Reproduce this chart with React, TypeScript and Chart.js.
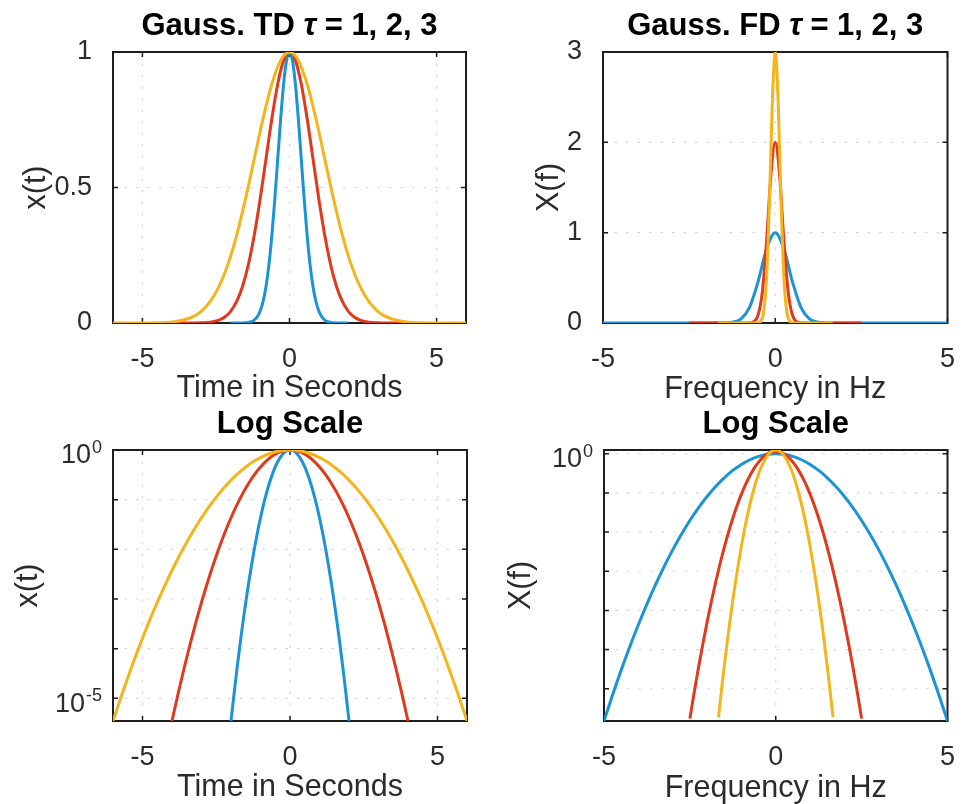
import React, { useEffect, useRef } from 'react';
import { Chart, registerables } from 'chart.js';

Chart.register(...registerables);

// ---------------- data ----------------
// Time axis samples for each pulse width tau = 1, 2, 3
const tdTimeTau1 = [-2, -1.9, -1.8, -1.7, -1.6, -1.5, -1.4, -1.3, -1.2, -1.1, -1, -0.9, -0.8, -0.7, -0.6, -0.5, -0.4, -0.3, -0.2, -0.1, 0, 0.1, 0.2, 0.3, 0.4, 0.5, 0.6, 0.7, 0.8, 0.9, 1, 1.1, 1.2, 1.3, 1.4, 1.5, 1.6, 1.7, 1.8, 1.9, 2];
const tdTimeTau2 = [-4, -3.8, -3.6, -3.4, -3.2, -3, -2.8, -2.6, -2.4, -2.2, -2, -1.8, -1.6, -1.4, -1.2, -1, -0.8, -0.6, -0.4, -0.2, 0, 0.2, 0.4, 0.6, 0.8, 1, 1.2, 1.4, 1.6, 1.8, 2, 2.2, 2.4, 2.6, 2.8, 3, 3.2, 3.4, 3.6, 3.8, 4];
const tdTimeTau3 = [-6, -5.7, -5.4, -5.1, -4.8, -4.5, -4.2, -3.9, -3.6, -3.3, -3, -2.7, -2.4, -2.1, -1.8, -1.5, -1.2, -0.9, -0.6, -0.3, 0, 0.3, 0.6, 0.9, 1.2, 1.5, 1.8, 2.1, 2.4, 2.7, 3, 3.3, 3.6, 3.9, 4.2, 4.5, 4.8, 5.1, 5.4, 5.7, 6];

// Pulse amplitudes x(t)
const tdPulseTau1 = [3.49e-6, 1.19e-5, 3.8e-5, 1.14e-4, 3.22e-4, 8.51e-4, 2.12e-3, 4.95e-3, 1.085e-2, 2.23e-2, 4.32e-2, 7.85e-2, 0.1339, 0.2145, 0.3227, 0.4559, 0.6049, 0.7537, 0.8819, 0.9691, 1, 0.9691, 0.8819, 0.7537, 0.6049, 0.4559, 0.3227, 0.2145, 0.1339, 7.85e-2, 4.32e-2, 2.23e-2, 1.085e-2, 4.95e-3, 2.12e-3, 8.51e-4, 3.22e-4, 1.14e-4, 3.8e-5, 1.19e-5, 3.49e-6];
const tdPulseTau2 = [3.49e-6, 1.19e-5, 3.8e-5, 1.14e-4, 3.22e-4, 8.51e-4, 2.12e-3, 4.95e-3, 1.085e-2, 2.23e-2, 4.32e-2, 7.85e-2, 0.1339, 0.2145, 0.3227, 0.4559, 0.6049, 0.7537, 0.8819, 0.9691, 1, 0.9691, 0.8819, 0.7537, 0.6049, 0.4559, 0.3227, 0.2145, 0.1339, 7.85e-2, 4.32e-2, 2.23e-2, 1.085e-2, 4.95e-3, 2.12e-3, 8.51e-4, 3.22e-4, 1.14e-4, 3.8e-5, 1.19e-5, 3.49e-6];
const tdPulseTau3 = [3.49e-6, 1.19e-5, 3.8e-5, 1.14e-4, 3.22e-4, 8.51e-4, 2.12e-3, 4.95e-3, 1.085e-2, 2.23e-2, 4.32e-2, 7.85e-2, 0.1339, 0.2145, 0.3227, 0.4559, 0.6049, 0.7537, 0.8819, 0.9691, 1, 0.9691, 0.8819, 0.7537, 0.6049, 0.4559, 0.3227, 0.2145, 0.1339, 7.85e-2, 4.32e-2, 2.23e-2, 1.085e-2, 4.95e-3, 2.12e-3, 8.51e-4, 3.22e-4, 1.14e-4, 3.8e-5, 1.19e-5, 3.49e-6];

// Frequency axis samples for each tau
const fdFreqTau1 = [-5, -4.75, -4.5, -4.25, -4, -3.75, -3.5, -3.25, -3, -2.75, -2.5, -2.25, -2, -1.75, -1.5, -1.25, -1, -0.75, -0.5, -0.25, 0, 0.25, 0.5, 0.75, 1, 1.25, 1.5, 1.75, 2, 2.25, 2.5, 2.75, 3, 3.25, 3.5, 3.75, 4, 4.25, 4.5, 4.75, 5];
const fdFreqTau2 = [-2.5, -2.375, -2.25, -2.125, -2, -1.875, -1.75, -1.625, -1.5, -1.375, -1.25, -1.125, -1, -0.875, -0.75, -0.625, -0.5, -0.375, -0.25, -0.125, 0, 0.125, 0.25, 0.375, 0.5, 0.625, 0.75, 0.875, 1, 1.125, 1.25, 1.375, 1.5, 1.625, 1.75, 1.875, 2, 2.125, 2.25, 2.375, 2.5];
const fdFreqTau3 = [-1.667, -1.583, -1.5, -1.417, -1.333, -1.25, -1.167, -1.083, -1, -0.917, -0.833, -0.75, -0.667, -0.583, -0.5, -0.417, -0.333, -0.25, -0.167, -0.083, 0, 0.083, 0.167, 0.25, 0.333, 0.417, 0.5, 0.583, 0.667, 0.75, 0.833, 0.917, 1, 1.083, 1.167, 1.25, 1.333, 1.417, 1.5, 1.583, 1.667];

// Spectrum magnitudes X(f)
const fdSpecTau1 = [7.8e-35, 1.6e-31, 2.4e-28, 2.3e-25, 1.5e-22, 6.5e-20, 1.9e-17, 3.9e-15, 5.3e-13, 4.8e-11, 3.0e-9, 1.24e-7, 3.49e-6, 6.6e-5, 8.5e-4, 7.38e-3, 4.32e-2, 0.171, 0.456, 0.822, 1, 0.822, 0.456, 0.171, 4.32e-2, 7.38e-3, 8.5e-4, 6.6e-5, 3.49e-6, 1.24e-7, 3.0e-9, 4.8e-11, 5.3e-13, 3.9e-15, 1.9e-17, 6.5e-20, 1.5e-22, 2.3e-25, 2.4e-28, 1.6e-31, 7.8e-35];
const fdSpecTau2 = [1.55e-34, 3.3e-31, 4.7e-28, 4.5e-25, 3.0e-22, 1.3e-19, 3.9e-17, 7.8e-15, 1.05e-12, 9.6e-11, 5.9e-9, 2.5e-7, 7.0e-6, 1.33e-4, 1.7e-3, 1.48e-2, 8.6e-2, 0.342, 0.912, 1.643, 2, 1.643, 0.912, 0.342, 8.6e-2, 1.48e-2, 1.7e-3, 1.33e-4, 7.0e-6, 2.5e-7, 5.9e-9, 9.6e-11, 1.05e-12, 7.8e-15, 3.9e-17, 1.3e-19, 3.0e-22, 4.5e-25, 4.7e-28, 3.3e-31, 1.55e-34];
const fdSpecTau3 = [2.3e-34, 4.9e-31, 7.1e-28, 6.8e-25, 4.4e-22, 1.95e-19, 5.8e-17, 1.16e-14, 1.58e-12, 1.44e-10, 8.9e-9, 3.7e-7, 1.05e-5, 2.0e-4, 2.55e-3, 2.2e-2, 0.130, 0.512, 1.368, 2.465, 3, 2.465, 1.368, 0.512, 0.130, 2.2e-2, 2.55e-3, 2.0e-4, 1.05e-5, 3.7e-7, 8.9e-9, 1.44e-10, 1.58e-12, 1.16e-14, 5.8e-17, 1.95e-19, 4.4e-22, 6.8e-25, 7.1e-28, 4.9e-31, 2.3e-34];

// Axis ranges and ticks
const timeRange = [-6, 6];
const timeTicks = [-5, 0, 5];
const freqRange = [-5, 5];
const freqTicks = [-5, 0, 5];
const pulseLinRange = [0, 1];
const pulseLinTicks = [0, 0.5, 1];
const specLinRange = [0, 3];
const specLinTicks = [0, 1, 2, 3];
const pulseLogRange = [3.49e-6, 1];
const pulseLogTicks = [1e-5, 1e-4, 1e-3, 1e-2, 1e-1, 1];
const pulseLogLabelExps = [0, -5];
const specLogRange = [7.7e-35, 3];
const specLogTicks = [1e-30, 1e-25, 1e-20, 1e-15, 1e-10, 1e-5, 1];
const specLogLabelExps = [0];

const seriesNames = ['τ = 1', 'τ = 2', 'τ = 3'];

// ---------------- styling ----------------
const PAGE_W = 967;
const PAGE_H = 804;
const FONT = "'Liberation Sans', Arial, Helvetica, sans-serif";
const COLORS = ['#1b94d6', '#e03a1e', '#f4b41c'];
const TEXT = '#2b2b2b';
const TICK_SIZE = 27;
const LABEL_SIZE = 30.5;
const TITLE_SIZE = 31;
const GRID = 'rgba(150,160,190,0.42)';

type Box = { l: number; t: number; r: number; b: number };
type TitlePart = { text: string; style: string };
type PanelCfg = {
  box: Box;
  titleY: number;
  title: TitlePart[];
  xTitleY: number;
  yTitleX: number;
  xLabel: string;
  yLabel: string;
  xRange: number[];
  xTicks: number[];
  yLog: boolean;
  yRange: number[];
  yTicks: number[];
  logLabelExps?: number[];
  xs: number[][];
  ys: number[][];
};

const tdTitle: TitlePart[] = [
  { text: 'Gauss. TD ', style: 'bold' },
  { text: 'τ', style: 'italic bold' },
  { text: ' = 1, 2, 3', style: 'bold' },
];
const fdTitle: TitlePart[] = [
  { text: 'Gauss. FD ', style: 'bold' },
  { text: 'τ', style: 'italic bold' },
  { text: ' = 1, 2, 3', style: 'bold' },
];
const logTitle: TitlePart[] = [{ text: 'Log Scale', style: 'bold' }];

const panels: PanelCfg[] = [
  {
    box: { l: 113, t: 52, r: 466, b: 323 }, titleY: 26, title: tdTitle, xTitleY: 389, yTitleX: 37,
    xLabel: 'Time in Seconds', yLabel: 'x(t)', xRange: timeRange, xTicks: timeTicks,
    yLog: false, yRange: pulseLinRange, yTicks: pulseLinTicks,
    xs: [tdTimeTau1, tdTimeTau2, tdTimeTau3], ys: [tdPulseTau1, tdPulseTau2, tdPulseTau3],
  },
  {
    box: { l: 603, t: 52, r: 959, b: 323 }, titleY: 26, title: fdTitle, xTitleY: 390, yTitleX: 550,
    xLabel: 'Frequency in Hz', yLabel: 'X(f)', xRange: freqRange, xTicks: freqTicks,
    yLog: false, yRange: specLinRange, yTicks: specLinTicks,
    xs: [fdFreqTau1, fdFreqTau2, fdFreqTau3], ys: [fdSpecTau1, fdSpecTau2, fdSpecTau3],
  },
  {
    box: { l: 113, t: 450, r: 467, b: 721 }, titleY: 424, title: logTitle, xTitleY: 788, yTitleX: 29,
    xLabel: 'Time in Seconds', yLabel: 'x(t)', xRange: timeRange, xTicks: timeTicks,
    yLog: true, yRange: pulseLogRange, yTicks: pulseLogTicks, logLabelExps: pulseLogLabelExps,
    xs: [tdTimeTau1, tdTimeTau2, tdTimeTau3], ys: [tdPulseTau1, tdPulseTau2, tdPulseTau3],
  },
  {
    box: { l: 604, t: 450, r: 959, b: 721 }, titleY: 424, title: logTitle, xTitleY: 789, yTitleX: 522,
    xLabel: 'Frequency in Hz', yLabel: 'X(f)', xRange: freqRange, xTicks: freqTicks,
    yLog: true, yRange: specLogRange, yTicks: specLogTicks, logLabelExps: specLogLabelExps,
    xs: [fdFreqTau1, fdFreqTau2, fdFreqTau3], ys: [fdSpecTau1, fdSpecTau2, fdSpecTau3],
  },
];

function buildConfig(p: PanelCfg): any {
  const half = (LABEL_SIZE * 1.2) / 2;
  const padL = p.yTitleX - half;
  const yAxisW = p.box.l - padL;
  const xScaleBottom = p.xTitleY + half;
  const padB = PAGE_H - xScaleBottom;
  const xAxisH = xScaleBottom - p.box.b;

  const axesPlugin = {
    id: 'matlabAxes',
    beforeDatasetsDraw(chart: any) {
      const { ctx, chartArea: a } = chart;
      const xs = chart.scales.x;
      const ys = chart.scales.y;
      ctx.save();
      ctx.strokeStyle = GRID;
      ctx.lineWidth = 1.2;
      ctx.setLineDash([2.5, 9]);
      for (const v of p.xTicks) {
        const px = xs.getPixelForValue(v);
        if (px - a.left < 2 || a.right - px < 2) continue;
        ctx.beginPath(); ctx.moveTo(px, a.top); ctx.lineTo(px, a.bottom); ctx.stroke();
      }
      for (const v of p.yTicks) {
        const py = ys.getPixelForValue(v);
        if (py - a.top < 2 || a.bottom - py < 2) continue;
        ctx.beginPath(); ctx.moveTo(a.left, py); ctx.lineTo(a.right, py); ctx.stroke();
      }
      ctx.setLineDash([]);
      ctx.strokeStyle = '#1e1e1e';
      ctx.lineWidth = 1.5;
      const tl = 5;
      for (const v of p.xTicks) {
        const px = xs.getPixelForValue(v);
        ctx.beginPath();
        ctx.moveTo(px, a.bottom); ctx.lineTo(px, a.bottom - tl);
        ctx.moveTo(px, a.top); ctx.lineTo(px, a.top + tl);
        ctx.stroke();
      }
      for (const v of p.yTicks) {
        const py = ys.getPixelForValue(v);
        ctx.beginPath();
        ctx.moveTo(a.left, py); ctx.lineTo(a.left + tl, py);
        ctx.moveTo(a.right, py); ctx.lineTo(a.right - tl, py);
        ctx.stroke();
      }
      ctx.lineWidth = 2;
      ctx.strokeRect(a.left, a.top, a.right - a.left, a.bottom - a.top);
      ctx.restore();
    },
    afterDraw(chart: any) {
      const { ctx, chartArea: a } = chart;
      ctx.save();
      // title with mixed styles
      ctx.fillStyle = '#000';
      ctx.textBaseline = 'middle';
      ctx.textAlign = 'left';
      let total = 0;
      const widths: number[] = [];
      for (const part of p.title) {
        ctx.font = `${part.style} ${TITLE_SIZE}px ${FONT}`;
        const w = ctx.measureText(part.text).width;
        widths.push(w);
        total += w;
      }
      let x = (a.left + a.right) / 2 - total / 2;
      p.title.forEach((part, i) => {
        ctx.font = `${part.style} ${TITLE_SIZE}px ${FONT}`;
        ctx.fillText(part.text, x, p.titleY);
        x += widths[i];
      });
      // log-axis labels 10^n
      if (p.logLabelExps) {
        const ys = chart.scales.y;
        ctx.fillStyle = TEXT;
        for (const e of p.logLabelExps) {
          const py = ys.getPixelForValue(Math.pow(10, e));
          const supText = String(e);
          ctx.font = `${18}px ${FONT}`;
          const supW = ctx.measureText(supText).width;
          ctx.font = `${TICK_SIZE}px ${FONT}`;
          const baseW = ctx.measureText('10').width;
          const right = a.left - 11;
          const x0 = right - supW - baseW - 1;
          ctx.fillText('10', x0, py + 6);
          ctx.font = `${18}px ${FONT}`;
          ctx.fillText(supText, x0 + baseW + 1, py - 2);
        }
      }
      ctx.restore();
    },
  };

  return {
    type: 'line',
    data: {
      datasets: p.xs.map((xArr, si) => ({
        label: seriesNames[si],
        data: xArr.map((xv, i) => ({ x: xv, y: p.ys[si][i] })),
        borderColor: COLORS[si],
        backgroundColor: COLORS[si],
        borderWidth: 3,
        pointRadius: 0,
        fill: false,
        cubicInterpolationMode: 'monotone',
        order: 3 - si,
      })),
    },
    options: {
      animation: false,
      responsive: false,
      devicePixelRatio: 1,
      events: [],
      layout: { padding: { left: padL, right: PAGE_W - p.box.r, top: p.box.t, bottom: padB } },
      plugins: {
        legend: { display: false },
        tooltip: { enabled: false },
        title: { display: false },
      },
      scales: {
        x: {
          type: 'linear',
          position: 'bottom',
          min: p.xRange[0],
          max: p.xRange[1],
          afterBuildTicks: (s: any) => { s.ticks = p.xTicks.map((v) => ({ value: v })); },
          afterFit: (s: any) => { s.height = xAxisH; },
          grid: { display: false },
          border: { display: false },
          ticks: {
            autoSkip: false, maxRotation: 0, minRotation: 0, padding: 12, color: TEXT,
            font: { family: FONT, size: TICK_SIZE, lineHeight: 1.2 },
            callback: (v: any) => String(v),
          },
          title: {
            display: true, text: p.xLabel, color: TEXT, padding: 0,
            font: { family: FONT, size: LABEL_SIZE, lineHeight: 1.2 },
          },
        },
        y: {
          type: p.yLog ? 'logarithmic' : 'linear',
          position: 'left',
          min: p.yRange[0],
          max: p.yRange[1],
          afterBuildTicks: (s: any) => { s.ticks = p.yTicks.map((v) => ({ value: v })); },
          afterFit: (s: any) => { s.width = yAxisW; },
          grid: { display: false },
          border: { display: false },
          ticks: {
            display: !p.yLog, autoSkip: false, padding: 13, color: TEXT,
            font: { family: FONT, size: TICK_SIZE, lineHeight: 1.2 },
            callback: (v: any) => String(v),
          },
          title: {
            display: true, text: p.yLabel, color: TEXT, padding: 0,
            font: { family: FONT, size: LABEL_SIZE, lineHeight: 1.2 },
          },
        },
      },
    },
    plugins: [axesPlugin],
  };
}

function PanelChart({ cfg }: { cfg: PanelCfg }) {
  const ref = useRef<HTMLCanvasElement | null>(null);
  useEffect(() => {
    if (!ref.current) return;
    const chart = new Chart(ref.current, buildConfig(cfg));
    return () => chart.destroy();
  }, [cfg]);
  return (
    <canvas
      ref={ref}
      width={PAGE_W}
      height={PAGE_H}
      style={{ position: 'absolute', left: 0, top: 0, width: PAGE_W, height: PAGE_H }}
    />
  );
}

export default function App() {
  return (
    <div style={{ position: 'absolute', left: 0, top: 0, width: PAGE_W, height: PAGE_H, background: '#fff', overflow: 'hidden' }}>
      {panels.map((p, i) => (
        <PanelChart key={i} cfg={p} />
      ))}
    </div>
  );
}
